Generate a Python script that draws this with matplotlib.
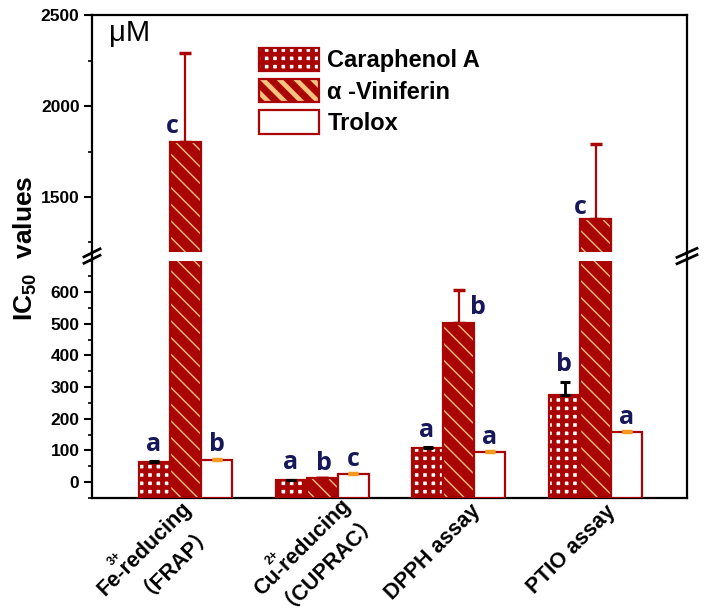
import matplotlib
matplotlib.use('Agg')
import matplotlib.pyplot as plt
from matplotlib.patches import Patch
from matplotlib.lines import Line2D
from matplotlib.legend_handler import HandlerTuple
from matplotlib.ticker import MultipleLocator
import numpy as np

# ---------------- data ----------------
cat_main = ['Fe-reducing', 'Cu-reducing', 'DPPH assay', 'PTIO assay']
cat_sup = ['3+', '2+', '', '']
cat_sub = ['（FRAP）', '（CUPRAC）', '', '']
series_names = ['Caraphenol A', 'α -Viniferin', 'Trolox']
caraphenol = [63, 6, 108, 275]
caraphenol_err = [2, 1, 2, 42]
viniferin = [1804, 12, 504, 1379]
viniferin_err = [486, 2, 103, 412]
trolox = [70, 24, 94, 157]
trolox_err = [3, 3, 3, 3]
letters_car = ['a', 'a', 'a', 'b']
letters_vin = ['c', 'b', 'b', 'c']
letters_tro = ['b', 'c', 'a', 'a']
lower_ticks = [0, 100, 200, 300, 400, 500, 600]
upper_ticks = [1500, 2000, 2500]
ylim_low = (-50, 700)
ylim_high = (1200, 2500)
unit_label = 'μM'
ylabel = 'IC$_{50}$  values'

# ---------------- style ----------------
RED = '#AA0505'
ORANGE_HATCH = '#F6C27E'
ORANGE_ERR = '#F39A1E'
NAVY = '#16185A'
FAMILY = ['Liberation Sans', 'DejaVu Sans', 'Noto Sans CJK SC']
plt.rcParams['font.family'] = FAMILY
plt.rcParams['font.weight'] = 'bold'
plt.rcParams['mathtext.fontset'] = 'custom'
plt.rcParams['mathtext.rm'] = 'Liberation Sans:bold'
plt.rcParams['mathtext.bf'] = 'Liberation Sans:bold'
plt.rcParams['mathtext.it'] = 'Liberation Sans:bold:italic'
plt.rcParams['mathtext.default'] = 'rm'

W, H = 709, 612
fig = plt.figure(figsize=(W / 100, H / 100), dpi=100)
left_px, right_px = 92, 687
up_top, up_bot = 15, 251.6
lo_top, lo_bot = 260.5, 497.8
axL = left_px / W
axW = (right_px - left_px) / W
ax_up = fig.add_axes([axL, 1 - up_bot / H, axW, (up_bot - up_top) / H])
ax_lo = fig.add_axes([axL, 1 - lo_bot / H, axW, (lo_bot - lo_top) / H])

x = np.arange(len(cat_main))
bw = 0.227
spine_lw = 1.6
base = ylim_low[0]
px2pt = 0.72


def hatched_bar(ax, xs, vals, face, hatch, hcolor, hlw):
    heights = [v - base for v in vals]
    ax.bar(xs, heights, bw, bottom=base, color=face, edgecolor='none', linewidth=0, zorder=2)
    with plt.rc_context({'hatch.linewidth': hlw}):
        bars = ax.bar(xs, heights, bw, bottom=base, facecolor='none', edgecolor=hcolor,
                      hatch=hatch, linewidth=0, zorder=3)
        for b in bars:
            if hasattr(b, 'set_hatch_linewidth'):
                b.set_hatch_linewidth(hlw)
    ax.bar(xs, heights, bw, bottom=base, facecolor='none', edgecolor=RED,
           linewidth=1.6, zorder=4)


for ax in (ax_up, ax_lo):
    hatched_bar(ax, x - bw, caraphenol, 'white', '++', RED, 3.4)
    hatched_bar(ax, x, viniferin, RED, '\\\\', ORANGE_HATCH, 1.0)
    ax.bar(x + bw, [v - base for v in trolox], bw, bottom=base, facecolor='white',
           edgecolor=RED, linewidth=1.6, zorder=4)
    ax.errorbar(x - bw, caraphenol, yerr=[[0] * 4, caraphenol_err], fmt='none',
                ecolor='black', elinewidth=2, capsize=3.5, capthick=2.2, zorder=5)
    ax.errorbar(x, viniferin, yerr=[[0] * 4, viniferin_err], fmt='none',
                ecolor=RED, elinewidth=1.6, capsize=4, capthick=2.5, zorder=5)
    ax.errorbar(x + bw, trolox, yerr=[[0] * 4, trolox_err], fmt='none',
                ecolor=ORANGE_ERR, elinewidth=2, capsize=3.5, capthick=2.5, zorder=5)
    ax.set_xlim(-0.684, 3.669)
    for s in ax.spines.values():
        s.set_linewidth(spine_lw)
    ax.tick_params(axis='y', which='major', direction='out', length=6, width=1.5,
                   labelsize=12.5, pad=3)
    ax.tick_params(axis='y', which='minor', direction='out', length=3, width=1.2)
    ax.tick_params(axis='x', length=0)

ax_up.set_ylim(*ylim_high)
ax_lo.set_ylim(*ylim_low)
ax_up.set_yticks(upper_ticks)
ax_up.yaxis.set_minor_locator(MultipleLocator(250))
ax_lo.set_yticks(lower_ticks)
ax_lo.yaxis.set_minor_locator(MultipleLocator(50))
ax_up.spines['bottom'].set_visible(False)
ax_lo.spines['top'].set_visible(False)
ax_up.set_xticks([])
ax_lo.set_xticks(x)
ax_lo.set_xticklabels([''] * len(cat_main))
for lab in ax_lo.get_yticklabels() + ax_up.get_yticklabels():
    lab.set_fontweight('bold')

# rotated category labels: offsets (px) of each text centre from tick / axis bottom
main_off = [(-41, 51), (-20, 50), (-26, 54), (-24, 52)]
sub_off = [(-13, 58), (3, 58), None, None]
sup_rel = (-30, 10)
lab_fs = 15.5


def put(text, i, dx, dy, fs):
    ax_lo.annotate(text, (x[i], 0), xycoords=ax_lo.get_xaxis_transform(),
                   xytext=(dx * px2pt, -dy * px2pt), textcoords='offset points',
                   rotation=45, rotation_mode='anchor', ha='center', va='center',
                   fontsize=fs, fontweight='bold', annotation_clip=False)


for i in range(len(cat_main)):
    mx, my = main_off[i]
    put(cat_main[i], i, mx, my, lab_fs)
    if cat_sup[i]:
        put(cat_sup[i], i, mx + sup_rel[0], my + sup_rel[1], 9)
    if cat_sub[i]:
        put(cat_sub[i], i, sub_off[i][0], sub_off[i][1], lab_fs)

# bridge spines across gap + break marks
yb = 1 - lo_top / H
yt = 1 - up_bot / H
for xf in (left_px / W, right_px / W):
    fig.add_artist(Line2D([xf, xf], [yb, yt], transform=fig.transFigure,
                          color='black', lw=spine_lw))
ymid_px = (lo_top + up_bot) / 2
for xc, half_dx, half_dy in ((left_px, 8, 4), (right_px, 10, 4.5)):
    for off in (-3.2, 3.2):
        yc = ymid_px + off
        fig.add_artist(Line2D([(xc - half_dx) / W, (xc + half_dx) / W],
                              [1 - (yc + half_dy) / H, 1 - (yc - half_dy) / H],
                              transform=fig.transFigure, color='black', lw=2.0))

# significance letters
letter_fs = 18
for i in range(len(cat_main)):
    ax_lo.annotate(letters_car[i], (x[i] - bw, caraphenol[i] + caraphenol_err[i]),
                   xytext=(-1 * px2pt, 17 * px2pt), textcoords='offset points',
                   ha='center', va='center', fontsize=letter_fs, color=NAVY,
                   family='Open Sans', fontweight='bold', annotation_clip=False)
    ax_lo.annotate(letters_tro[i], (x[i] + bw, trolox[i] + trolox_err[i]),
                   xytext=(0, 14 * px2pt), textcoords='offset points',
                   ha='center', va='center', fontsize=letter_fs, color=NAVY,
                   family='Open Sans', fontweight='bold', annotation_clip=False)

vin_dx = [-13, 2, 19, -15]
vin_dy = [15, 15, 15, 12]
for i in range(len(cat_main)):
    ax = ax_up if viniferin[i] > ylim_low[1] else ax_lo
    ax.annotate(letters_vin[i], (x[i], viniferin[i]),
                xytext=(vin_dx[i] * px2pt, vin_dy[i] * px2pt), textcoords='offset points',
                ha='center', va='center', fontsize=letter_fs, color=NAVY,
                family='Open Sans', fontweight='bold', annotation_clip=False)

# unit text
ax_up.text(0.028, 0.925, unit_label, transform=ax_up.transAxes, fontsize=21,
           fontweight='normal', ha='left', va='center')

# y label
fig.text(25 / W, 1 - 248 / H, ylabel, rotation=90, ha='center', va='center',
         fontsize=19, fontweight='bold')

# legend
h_car = (Patch(facecolor='white', edgecolor='none'),
         Patch(facecolor='none', edgecolor=RED, hatch='++', linewidth=0),
         Patch(facecolor='none', edgecolor=RED, linewidth=1.6))
h_vin = (Patch(facecolor=RED, edgecolor='none'),
         Patch(facecolor='none', edgecolor=ORANGE_HATCH, hatch='\\\\', linewidth=0),
         Patch(facecolor='none', edgecolor=RED, linewidth=1.6))
h_tro = Patch(facecolor='white', edgecolor=RED, linewidth=1.6)
with plt.rc_context({'hatch.linewidth': 3.4}):
    leg = ax_up.legend([h_car, h_vin, h_tro], series_names,
                       handler_map={tuple: HandlerTuple(ndivide=1, pad=0)},
                       loc='upper left', bbox_to_anchor=((259 - left_px) / (right_px - left_px), 0.862),
                       frameon=False, fontsize=17, handlelength=2.55, handleheight=1.15,
                       handletextpad=0.35, labelspacing=0.28, borderpad=0, borderaxespad=0)
for t in leg.get_texts():
    t.set_fontweight('bold')

fig.savefig('out.png', dpi=100)
